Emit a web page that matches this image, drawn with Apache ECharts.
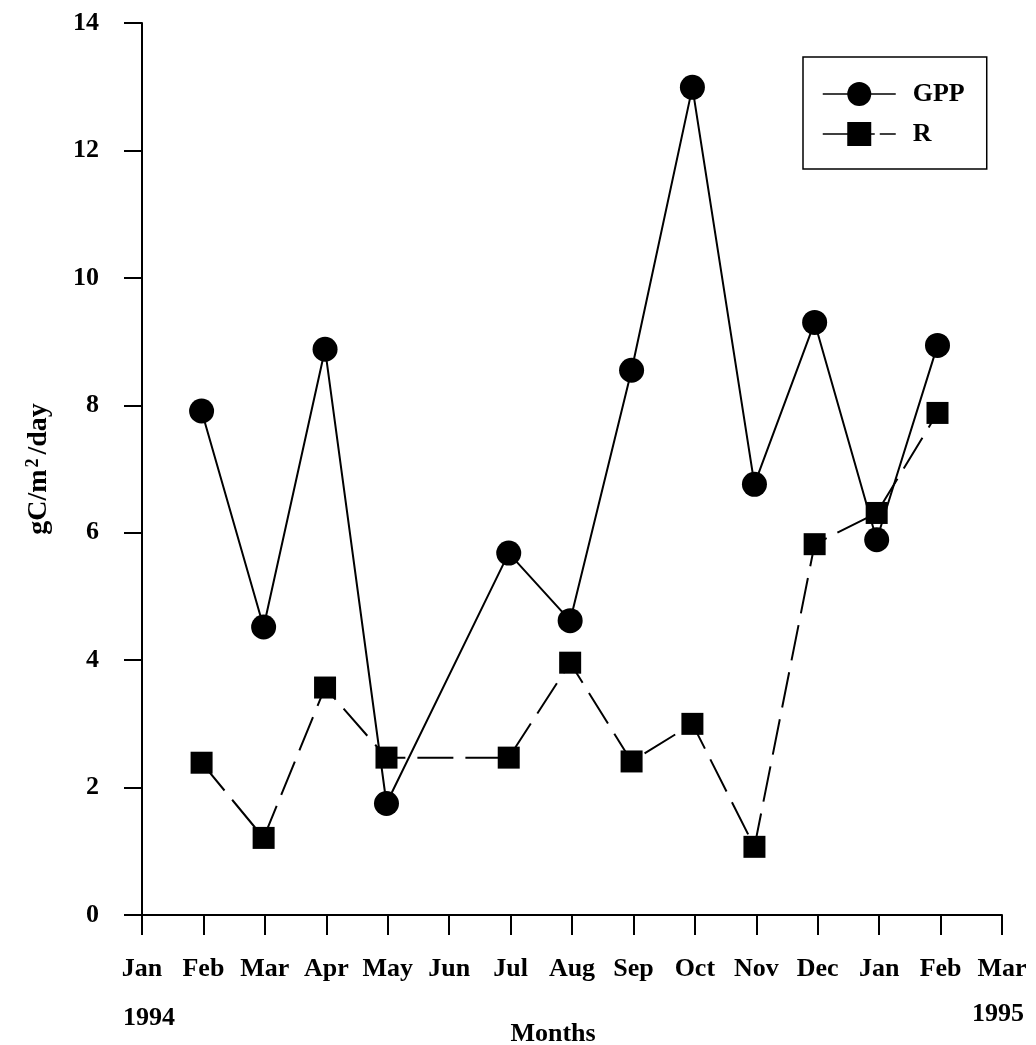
<!DOCTYPE html>
<html>
<head>
<meta charset="utf-8">
<script src="https://cdn.jsdelivr.net/npm/echarts@6/dist/echarts.min.js"></script>
<style>
  html, body { margin: 0; padding: 0; background: #fff; }
  #chart { width: 1036px; height: 1045px; }
</style>
</head>
<body>
<div id="chart"></div>
<script>
// Month tick labels along the time axis (Jan 1994 .. Mar 1995)
const monthLabels = ["Jan", "Feb", "Mar", "Apr", "May", "Jun", "Jul", "Aug", "Sep", "Oct", "Nov", "Dec", "Jan", "Feb", "Mar"];
const yearLabels = ["1994", "1995"];

// Sampling dates, in months since 1 Jan 1994
const sampleMonths = [0.97, 1.98, 2.98, 3.98, 5.97, 6.97, 7.97, 8.96, 9.97, 10.95, 11.96, 12.95];

// Gross primary production and respiration, gC/m2/day
const gpp = [7.91, 4.52, 8.88, 1.75, 5.68, 4.62, 8.55, 12.99, 6.76, 9.30, 5.89, 8.94];
const resp = [2.39, 1.21, 3.57, 2.47, 2.47, 3.96, 2.41, 3.00, 1.07, 5.82, 6.31, 7.88];

const yTicks = [0, 2, 4, 6, 8, 10, 12, 14];

const FONT = '"Liberation Serif", "Times New Roman", serif';

function pairs(xs, ys) {
  return xs.map((x, i) => [x, ys[i]]);
}

const chart = echarts.init(document.getElementById('chart'), null, { renderer: 'canvas' });

const option = {
  animation: false,
  backgroundColor: '#ffffff',
  grid: { left: 142, right: 34, top: 23, bottom: 130, containLabel: false, outerBoundsMode: 'none' },
  legend: {
    orient: 'vertical',
    left: 803,
    top: 57,
    padding: [24, 22, 22, 19],
    itemGap: 14,
    itemWidth: 73,
    itemHeight: 30,
    borderColor: '#000',
    borderWidth: 1.5,
    borderRadius: 0,
    textStyle: { fontFamily: FONT, fontWeight: 'bold', fontSize: 26, color: '#000', padding: [0, 0, 0, 12] },
    data: [
      { name: 'GPP', lineStyle: { width: 1.5 } },
      { name: 'R', lineStyle: { width: 1.5, type: [52, 5, 20] } }
    ]
  },
  xAxis: {
    type: 'value',
    min: 0,
    max: monthLabels.length - 1,
    interval: 1,
    name: 'Months',
    nameLocation: 'middle',
    nameGap: 106,
    nameTextStyle: { fontFamily: FONT, fontWeight: 'bold', fontSize: 26, color: '#000', padding: [0, 38, 0, 0] },
    splitLine: { show: false },
    axisLine: { lineStyle: { color: '#000', width: 2 } },
    axisTick: { show: true, length: 20, lineStyle: { color: '#000', width: 2 } },
    axisLabel: {
      margin: 41,
      fontFamily: FONT, fontWeight: 'bold', fontSize: 26, color: '#000',
      formatter: v => monthLabels[Math.round(v)] || ''
    }
  },
  yAxis: {
    type: 'value',
    min: yTicks[0],
    max: yTicks[yTicks.length - 1],
    interval: 2,
    name: 'gC/m{sup|2}/day',
    nameLocation: 'middle',
    nameGap: 88,
    nameRotate: 90,
    nameTextStyle: {
      fontFamily: FONT, fontWeight: 'bold', fontSize: 28, color: '#000',
      rich: {
        sup: { fontFamily: FONT, fontWeight: 'bold', fontSize: 18, color: '#000', verticalAlign: 'top', padding: [0, 4, 12, 2] }
      }
    },
    splitLine: { show: false },
    axisLine: { show: true, lineStyle: { color: '#000', width: 2 } },
    axisTick: { show: true, length: 18, lineStyle: { color: '#000', width: 2 } },
    axisLabel: {
      margin: 43,
      fontFamily: FONT, fontWeight: 'bold', fontSize: 26, color: '#000'
    }
  },
  series: [
    {
      name: 'GPP',
      type: 'line',
      data: pairs(sampleMonths, gpp),
      symbol: 'circle',
      symbolSize: 25,
      itemStyle: { color: '#000' },
      lineStyle: { color: '#000', width: 2, type: 'solid' },
      z: 3
    },
    {
      name: 'R',
      type: 'line',
      data: pairs(sampleMonths, resp),
      symbol: 'rect',
      symbolSize: 22,
      itemStyle: { color: '#000' },
      lineStyle: { color: '#000', width: 2, type: [36, 12] },
      z: 2
    }
  ]
};

chart.setOption(option);

// Year captions under the first and last month labels
const xFirst = chart.convertToPixel({ xAxisIndex: 0 }, 0);
const xLast = chart.convertToPixel({ xAxisIndex: 0 }, monthLabels.length - 1);
chart.setOption({
  graphic: [
    {
      type: 'text', left: xFirst - 19, top: 1005,
      style: { text: yearLabels[0], font: 'bold 26px ' + FONT, fill: '#000' }
    },
    {
      type: 'text', right: 1036 - (xLast + 22), top: 1001,
      style: { text: yearLabels[1], font: 'bold 26px ' + FONT, fill: '#000' }
    }
  ]
});
</script>
</body>
</html>
